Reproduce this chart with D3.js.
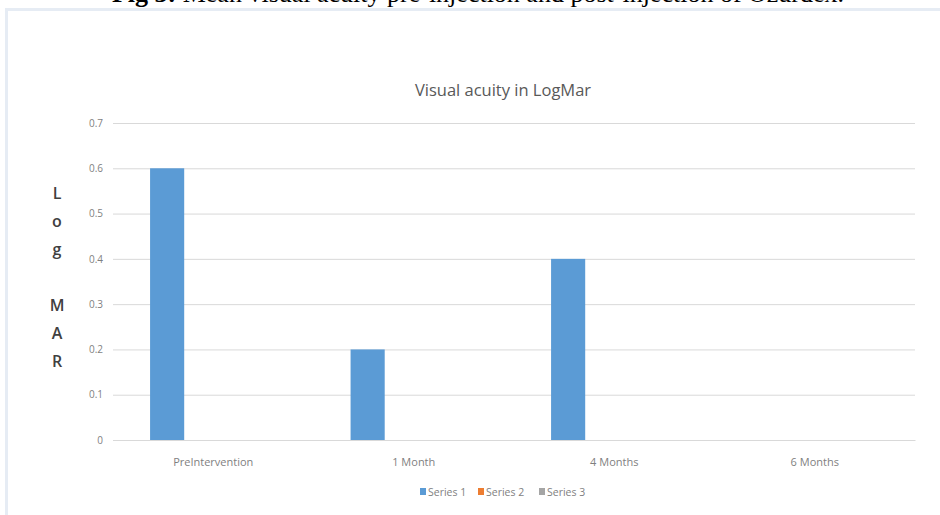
<!DOCTYPE html>
<html>
<head>
<meta charset="utf-8">
<script src="https://cdn.jsdelivr.net/npm/d3@7"></script>
<style>
  body { margin: 0; background: #fff; }
  svg { display: block; }
</style>
</head>
<body>
<div id="chart"></div>
<script>
const categories = ["PreIntervention", "1 Month", "4 Months", "6 Months"];
const seriesNames = ["Series 1", "Series 2", "Series 3"];
const series1 = [0.6, 0.2, 0.4, 0];
const series2 = [0, 0, 0, 0];
const series3 = [0, 0, 0, 0];
const yTicks = [0, 0.1, 0.2, 0.3, 0.4, 0.5, 0.6, 0.7];
const seriesColors = ["#5b9bd5", "#ed7d31", "#a5a5a5"];

const W = 940, H = 515;
const plot = { left: 113, right: 915, top: 123, bottom: 440 };

const svg = d3.select("#chart").append("svg")
  .attr("width", W)
  .attr("height", H);

// page frame and the caption above it (cropped at the top, as in the source)
svg.append("rect")
  .attr("x", 6.5).attr("y", 9.5)
  .attr("width", W + 20).attr("height", H + 20)
  .attr("fill", "#fff")
  .attr("stroke", "#e6ecf4")
  .attr("stroke-width", 3);

const caption = svg.append("text")
  .attr("x", 478).attr("y", 1.5)
  .attr("text-anchor", "middle")
  .attr("font-family", "Liberation Serif, serif")
  .attr("font-size", "26px")
  .attr("fill", "#000");
caption.append("tspan").attr("font-weight", "bold").text("Fig 3: ");
caption.append("tspan").text("Mean visual acuity pre-injection and post-injection of Ozurdex.");

const y = d3.scaleLinear()
  .domain([0, 0.7])
  .range([plot.bottom, plot.top]);

const x0 = d3.scaleBand()
  .domain(categories)
  .range([plot.left, plot.right])
  .paddingInner(0.31)
  .paddingOuter(0.155);

const x1 = d3.scaleBand()
  .domain(seriesNames)
  .range([0, x0.bandwidth()])
  .paddingInner(0.26)
  .paddingOuter(0.13);

// gridlines + tick labels
const yAxis = svg.append("g")
  .attr("transform", `translate(${plot.left},0)`)
  .call(d3.axisLeft(y)
    .tickValues(yTicks)
    .tickSize(-(plot.right - plot.left))
    .tickPadding(10)
    .tickFormat(d => d === 0 ? "0" : d3.format(".1f")(d)));
yAxis.select(".domain").remove();
yAxis.selectAll("line").attr("stroke", "#d9d9d9");
yAxis.selectAll("text")
  .attr("fill", "#7f7f7f")
  .attr("font-family", "Open Sans, sans-serif")
  .attr("font-size", "10px");

// category axis
const xAxis = svg.append("g")
  .attr("transform", `translate(0,${plot.bottom})`)
  .call(d3.axisBottom(x0).tickSize(0).tickPadding(18));
xAxis.select(".domain").attr("stroke", "#d9d9d9");
xAxis.selectAll("text")
  .attr("fill", "#7f7f7f")
  .attr("font-family", "Open Sans, sans-serif")
  .attr("font-size", "11px");

// bars
const allSeries = [series1, series2, series3];
const groups = svg.append("g").selectAll("g")
  .data(categories)
  .join("g")
  .attr("transform", d => `translate(${x0(d)},0)`);

groups.selectAll("rect")
  .data((c, i) => seriesNames.map((s, j) => ({ s, v: allSeries[j][i], color: seriesColors[j] })))
  .join("rect")
  .attr("x", d => x1(d.s))
  .attr("width", x1.bandwidth())
  .attr("y", d => y(d.v))
  .attr("height", d => y(0) - y(d.v))
  .attr("fill", d => d.color);

// title
svg.append("text")
  .attr("x", 503).attr("y", 96)
  .attr("text-anchor", "middle")
  .attr("font-family", "Open Sans, sans-serif")
  .attr("font-size", "16.5px")
  .attr("fill", "#595959")
  .text("Visual acuity in LogMar");

// vertical axis label, one letter per line
const yLabel = ["L", "o", "g", "", "M", "A", "R"];
svg.append("g").selectAll("text")
  .data(yLabel)
  .join("text")
  .attr("x", 57)
  .attr("y", (d, i) => 199 + i * 28)
  .attr("text-anchor", "middle")
  .attr("font-family", "Open Sans, sans-serif")
  .attr("font-weight", "600")
  .attr("font-size", "16px")
  .attr("fill", "#404040")
  .text(d => d);

// legend
const legendX = [420, 478, 539];
const legend = svg.append("g").selectAll("g")
  .data(seriesNames)
  .join("g")
  .attr("transform", (d, i) => `translate(${legendX[i]},492)`);
legend.append("rect")
  .attr("x", 0).attr("y", -4)
  .attr("width", 6).attr("height", 7)
  .attr("fill", (d, i) => seriesColors[i]);
legend.append("text")
  .attr("x", 8).attr("y", 3.5)
  .attr("font-family", "Open Sans, sans-serif")
  .attr("font-size", "10.5px")
  .attr("fill", "#7f7f7f")
  .text(d => d);
</script>
</body>
</html>
